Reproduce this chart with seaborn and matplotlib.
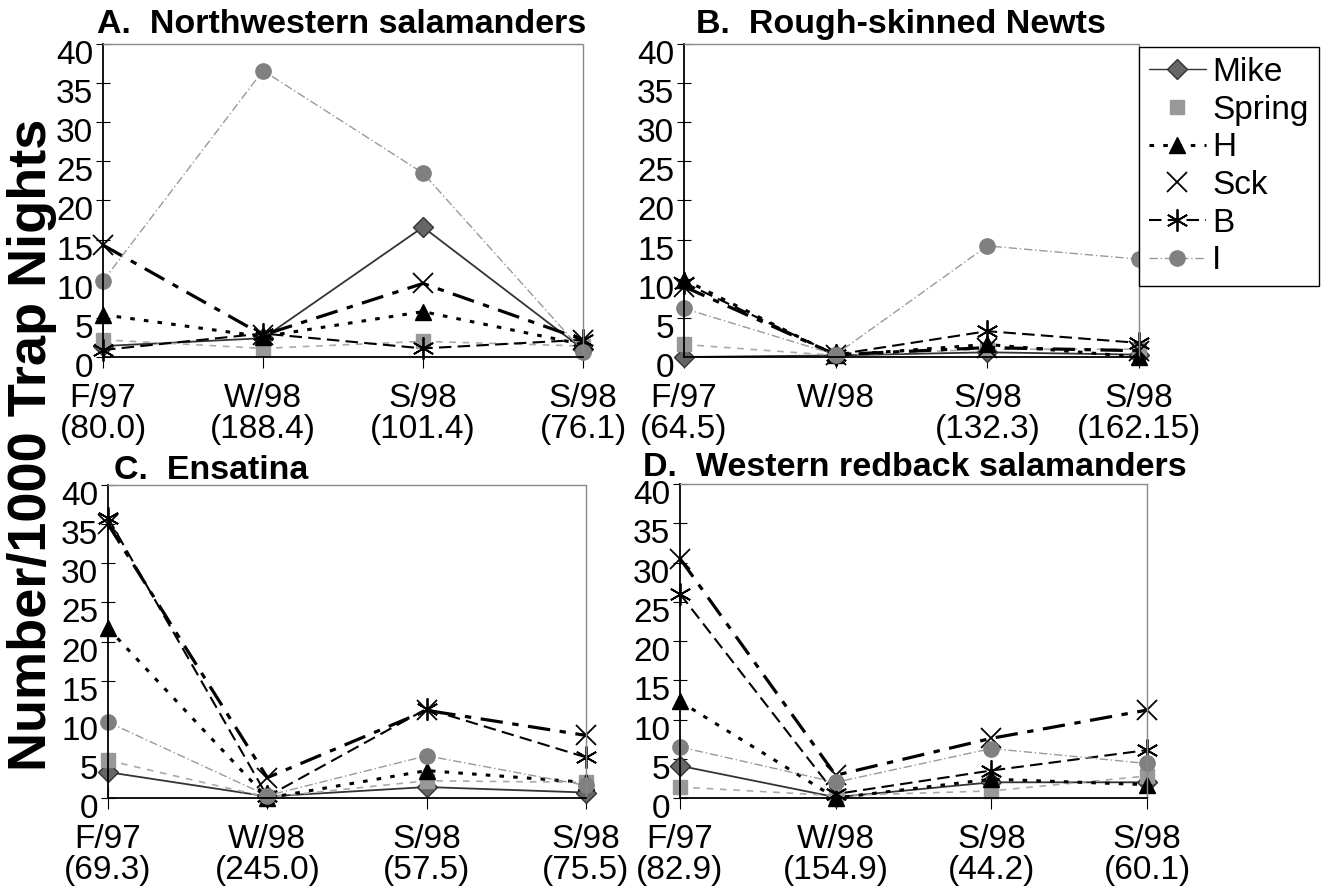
import matplotlib
matplotlib.use('Agg')
import matplotlib.pyplot as plt
import matplotlib.transforms as mtransforms
from matplotlib.lines import Line2D
import seaborn as sns
import pandas as pd

## Datos

series = ['Mike', 'Spring', 'H', 'Sck', 'B', 'I']
x_pos = [0, 1, 2, 3]

# A. Northwestern salamanders
mike_a = [1.4, 2.4, 16.6, 1.0]
spring_a = [2.2, 1.1, 2.0, 1.4]
h_a = [5.4, 2.6, 5.8, 1.6]
sck_a = [14.3, 2.8, 9.4, 2.2]
b_a = [0.9, 3.0, 1.1, 2.2]
i_a = [9.7, 36.6, 23.5, 0.7]

# B. Rough-skinned Newts
mike_b = [0.0, 0.2, 0.6, 0.3]
spring_b = [1.6, 0.2, 1.0, 1.0]
h_b = [9.9, 0.2, 1.6, 0.0]
sck_b = [9.0, 0.3, 1.2, 0.8]
b_b = [9.5, 0.3, 3.3, 1.8]
i_b = [6.2, 0.3, 14.2, 12.5]

# C. Ensatina
mike_c = [3.3, 0.2, 1.4, 0.7]
spring_c = [4.8, 0.1, 2.2, 2.0]
h_c = [21.7, 0.0, 3.5, 2.0]
sck_c = [35.0, 2.6, 11.2, 8.0]
b_c = [35.8, 0.2, 11.4, 5.2]
i_c = [9.7, 0.3, 5.4, 1.6]

# D. Western redback salamanders
mike_d = [4.1, 0.1, 2.0, 2.0]
spring_d = [1.4, 0.3, 0.9, 2.8]
h_d = [12.3, 0.0, 2.4, 1.7]
sck_d = [30.5, 2.9, 7.6, 11.2]
b_d = [26.0, 0.5, 3.5, 6.1]
i_d = [6.5, 2.0, 6.3, 4.4]

titles = ['A.  Northwestern salamanders', 'B.  Rough-skinned Newts',
          'C.  Ensatina', 'D.  Western redback salamanders']

labels_a = ['F/97\n(80.0)', 'W/98\n(188.4)', 'S/98\n(101.4)', 'S/98\n(76.1)']
labels_b = ['F/97\n(64.5)', 'W/98', 'S/98\n(132.3)', 'S/98\n(162.15)']
labels_c = ['F/97\n(69.3)', 'W/98\n(245.0)', 'S/98\n(57.5)', 'S/98\n(75.5)']
labels_d = ['F/97\n(82.9)', 'W/98\n(154.9)', 'S/98\n(44.2)', 'S/98\n(60.1)']

paneles = [
    ([mike_a, spring_a, h_a, sck_a, b_a, i_a], labels_a),
    ([mike_b, spring_b, h_b, sck_b, b_b, i_b], labels_b),
    ([mike_c, spring_c, h_c, sck_c, b_c, i_c], labels_c),
    ([mike_d, spring_d, h_d, sck_d, b_d, i_d], labels_d),
]

## Estilos de cada serie

estilos = {
    'Mike': dict(color='#333333', ls='-', lw=1.3, marker='D', ms=10, mfc='#666666', mec='#333333'),
    'Spring': dict(color='#aaaaaa', ls=(0, (4, 4)), lw=1.2, marker='s', ms=10, mfc='#999999', mec='#999999'),
    'H': dict(color='black', ls=(0, (1.5, 3)), lw=2.2, marker='^', ms=12, mfc='black', mec='black'),
    'Sck': dict(color='black', ls=(0, (7, 3, 2, 3)), lw=2.3, marker='x', ms=14, mew=1.3, mec='black'),
    'B': dict(color='black', ls=(0, (6, 3)), lw=1.5, marker=(6, 2, 0), ms=16, mew=1.3, mec='black'),
    'I': dict(color='#999999', ls=(0, (6, 2, 1, 2)), lw=1.0, marker='o', ms=11, mfc='#808080', mec='#808080'),
}

sns.set_style('white')
plt.rcParams['font.family'] = ['Liberation Sans', 'DejaVu Sans']
plt.rcParams['text.color'] = 'black'
plt.rcParams['xtick.color'] = 'black'
plt.rcParams['ytick.color'] = 'black'

fig = plt.figure(figsize=(13.23, 8.88), dpi=100)
W, H = 1323, 888

# posiciones de los ejes en pixeles: (izq, der, arriba, abajo)
cajas = [(103, 583, 44, 357), (684, 1139, 44, 357),
         (108, 586, 485, 798), (680, 1147, 484, 798)]
pos_titulos = [(97, 33), (696, 33), (114, 479), (643, 476)]

# las etiquetas del eje y van algo por debajo de su marca en el original
bajar = mtransforms.ScaledTranslation(0, -0.08, fig.dpi_scale_trans)

for k, (valores, xlabels) in enumerate(paneles):
    l, r, t, b = cajas[k]
    ax = fig.add_axes([l / W, 1 - b / H, (r - l) / W, (b - t) / H])
    df = pd.DataFrame({'x': x_pos * len(series),
                       'y': sum(valores, []),
                       'serie': [s for s in series for _ in x_pos]})
    for s in series:
        d = df[df.serie == s]
        st = estilos[s]
        sns.lineplot(data=d, x='x', y='y', ax=ax, clip_on=False,
                     color=st['color'], linestyle=st['ls'], linewidth=st['lw'],
                     marker=st['marker'], markersize=st['ms'],
                     markerfacecolor=st.get('mfc', 'black'), markeredgecolor=st['mec'],
                     markeredgewidth=st.get('mew', 1.0))
    ax.set_xlim(0, 3)
    ax.set_ylim(0, 40)
    ax.set_yticks(range(0, 41, 5))
    ax.set_xticks(x_pos)
    ax.set_xlabel('')
    ax.set_ylabel('')
    ax.tick_params(axis='y', direction='inout', length=10, width=0.8, pad=2, left=True)
    ax.tick_params(axis='x', direction='inout', length=16, width=0.8, pad=11, bottom=True)
    ax.set_xticklabels(xlabels, fontsize=24, linespacing=1.0)
    ax.set_yticklabels([str(v) for v in range(0, 41, 5)], fontsize=24)
    for tick in ax.yaxis.get_major_ticks():
        tick.label1.set_transform(tick.label1.get_transform() + bajar)
    for lado in ['left', 'bottom']:
        ax.spines[lado].set_color('black')
        ax.spines[lado].set_linewidth(1.3)
    for lado in ['top', 'right']:
        ax.spines[lado].set_color('#888888')
        ax.spines[lado].set_linestyle((0, (1, 1)))
        ax.spines[lado].set_linewidth(1.0)
    tx, ty = pos_titulos[k]
    fig.text(tx / W, 1 - ty / H, titles[k], fontsize=24.5, fontweight='bold', ha='left', va='baseline')

# leyenda: Spring y Sck solo con marcador, como en el original
leg_handles = []
for s in series:
    st = estilos[s]
    ls = 'None' if s in ('Spring', 'Sck') else st['ls']
    lw = 1.0 if s in ('Mike', 'I') else st['lw']
    leg_handles.append(Line2D([], [], color=st['color'], linestyle=ls, linewidth=lw,
                              marker=st['marker'], markersize=st['ms'],
                              markerfacecolor=st.get('mfc', 'black'), markeredgecolor=st['mec'],
                              markeredgewidth=st.get('mew', 1.0)))

leg = fig.legend(leg_handles, series, loc='upper left', bbox_to_anchor=(1139 / W, 1 - 47 / H),
                 prop={'size': 24}, frameon=True, fancybox=False,
                 handlelength=1.7, handletextpad=0.2, labelspacing=0.2, borderpad=0.3,
                 borderaxespad=0)
leg.get_frame().set_edgecolor('black')
leg.get_frame().set_linewidth(1.0)
leg.get_frame().set_alpha(1)

fig.text(0.024, 1 - 445 / H, 'Number/1000 Trap Nights', rotation=90, fontsize=39,
         fontweight='bold', ha='center', va='center')

plt.savefig('out.png', dpi=100)
plt.close()
